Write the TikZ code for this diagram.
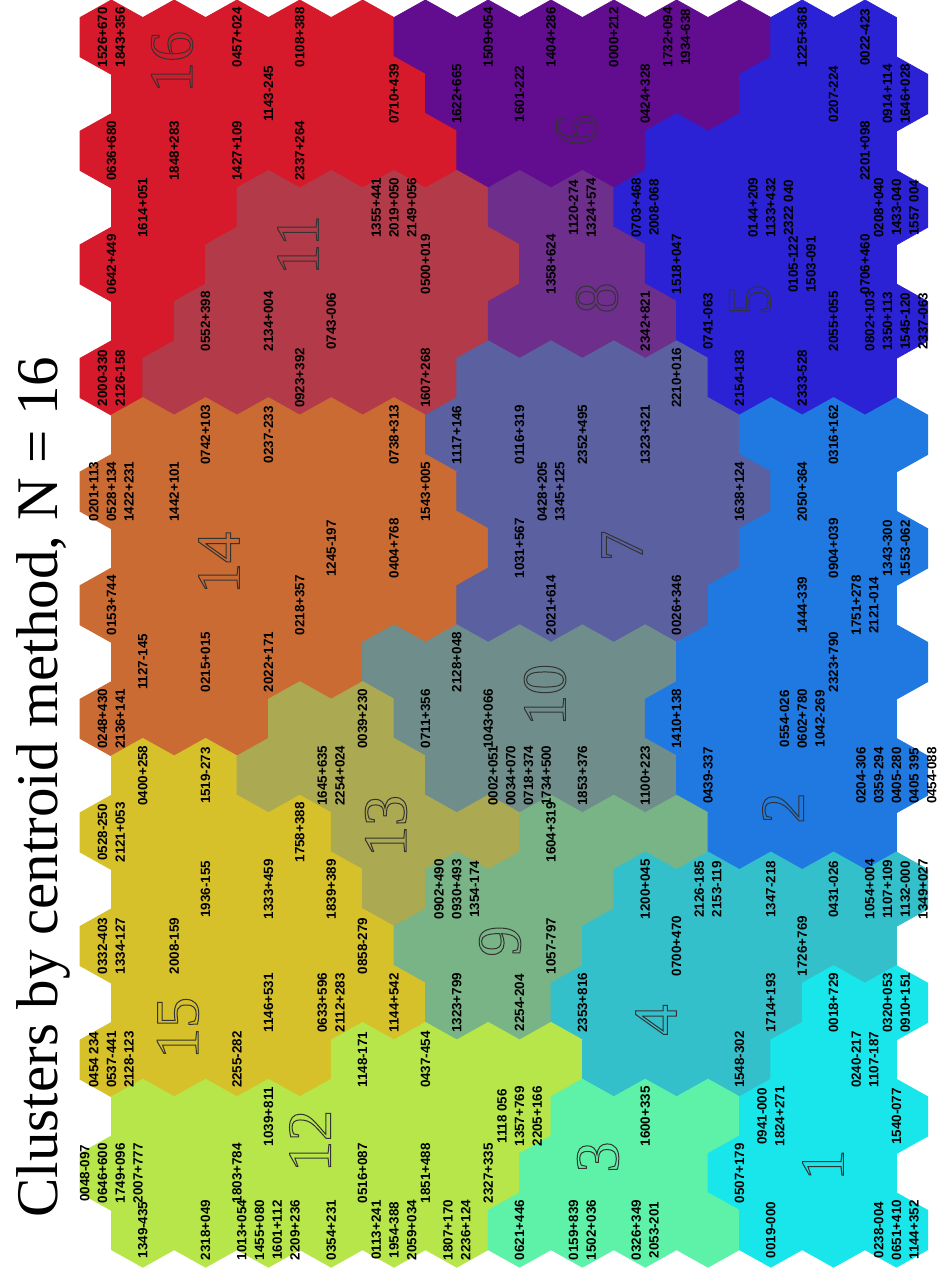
\documentclass[tikz,border=0pt]{standalone}
\usepackage{fontspec}
\setmainfont{Liberation Serif}
\newfontfamily\lblfam{Liberation Sans}
\definecolor{c1}{HTML}{19E6EA}
\definecolor{c2}{HTML}{1F79E0}
\definecolor{c3}{HTML}{5EF2A8}
\definecolor{c4}{HTML}{34C0CA}
\definecolor{c5}{HTML}{2A22D4}
\definecolor{c6}{HTML}{620D8F}
\definecolor{c7}{HTML}{5A60A0}
\definecolor{c8}{HTML}{6E2E8B}
\definecolor{c9}{HTML}{79B486}
\definecolor{c10}{HTML}{6F8E8B}
\definecolor{c11}{HTML}{B33A48}
\definecolor{c12}{HTML}{B6E649}
\definecolor{c13}{HTML}{ABA952}
\definecolor{c14}{HTML}{C96B33}
\definecolor{c15}{HTML}{D6C12A}
\definecolor{c16}{HTML}{D6192B}
\tikzset{
  lbl/.style={rotate=90, font=\lblfam\bfseries\fontsize{13.4}{17.7}\selectfont, align=center, inner sep=0pt, text=black},
  numeral/.style={rotate=90, font=\fontsize{62}{62}\selectfont, inner sep=0pt, text=black!80},
  hexcell/.style={line width=0.8pt, line join=round},
  titletext/.style={rotate=90, anchor=base, font=\fontsize{59}{59}\selectfont, inner sep=0pt}
}
\newcommand\hc[2]{\pgfmathsetmacro\hx{111.4+31.4*mod(#1,2)+62.8*#2}\pgfmathsetmacro\hy{37.2+56.8*#1}}
\newcommand\hexrow[2]{\foreach \cl [count=\cc from 0] in {#2}{\hc{#1}{\cc}\filldraw[hexcell,fill=c\cl,draw=c\cl] (\hx,\hy-37.2) -- ++(31.4,17.55) -- ++(0,39.3) -- ++(-31.4,17.55) -- ++(-31.4,-17.55) -- ++(0,-39.3) -- cycle;}}
\newcommand\lab[3]{\hc{#1}{#2}\node[lbl] (L-#1-#2) at (\hx,\hy) {#3};}
\newcommand\numl[3]{\node[numeral] (N-#3) at (#1,#2) {\special{pdf:literal direct 1 Tr 1 w}#3\special{pdf:literal direct 0 Tr}};}
\begin{document}
\begin{tikzpicture}[x=1pt,y=-1pt]
\fill[white] (0,0) rectangle (937,1268);
\useasboundingbox (0,0) rectangle (937,1268);
\hexrow{0}{16,16,16,16,16,6,6,6,6,6,6,5,5}
\hexrow{1}{16,16,16,16,16,6,6,6,6,6,5,5,5}
\hexrow{2}{16,16,16,16,16,16,6,6,6,5,5,5,5}
\hexrow{3}{16,16,11,11,11,11,8,8,5,5,5,5,5}
\hexrow{4}{16,16,11,11,11,11,11,8,8,5,5,5,5}
\hexrow{5}{16,11,11,11,11,11,8,8,8,5,5,5,5}
\hexrow{6}{16,11,11,11,11,11,7,7,7,7,5,5,5}
\hexrow{7}{14,14,14,14,14,7,7,7,7,7,2,2,2}
\hexrow{8}{14,14,14,14,14,14,7,7,7,7,7,2,2}
\hexrow{9}{14,14,14,14,14,14,7,7,7,7,2,2,2}
\hexrow{10}{14,14,14,14,14,14,7,7,7,7,2,2,2}
\hexrow{11}{14,14,14,14,10,10,10,10,10,2,2,2,2}
\hexrow{12}{14,14,14,13,13,10,10,10,10,2,2,2,2}
\hexrow{13}{15,15,13,13,13,10,10,10,10,2,2,2,2}
\hexrow{14}{15,15,15,15,13,13,13,9,9,9,2,2,2}
\hexrow{15}{15,15,15,15,13,9,9,9,4,4,4,4,4}
\hexrow{16}{15,15,15,15,15,9,9,9,4,4,4,4,4}
\hexrow{17}{15,15,15,15,15,9,9,4,4,4,4,1,1}
\hexrow{18}{15,15,15,15,12,12,12,12,4,4,4,1,1}
\hexrow{19}{12,12,12,12,12,12,12,3,3,3,1,1,1}
\hexrow{20}{12,12,12,12,12,12,12,3,3,3,1,1,1}
\hexrow{21}{12,12,12,12,12,12,3,3,3,3,1,1,1}
% labels
\lab{0}{0}{1526+670\\1843+356}
\lab{0}{2}{0457+024}
\lab{0}{3}{0108+388}
\lab{0}{6}{1509+054}
\lab{0}{7}{1404+286}
\lab{0}{8}{0000+212}
\lab{0}{9}{1732+094\\1934-638}
\lab{0}{11}{1225+368}
\lab{0}{12}{0022-423}
\lab{1}{2}{1143-245}
\lab{1}{4}{0710+439}
\lab{1}{5}{1622+665}
\lab{1}{6}{1601-222}
\lab{1}{8}{0424+328}
\lab{1}{11}{0207-224}
\lab{1}{12}{0914+114\\1646+028}
\lab{2}{0}{0636+680}
\lab{2}{1}{1848+283}
\lab{2}{2}{1427+109}
\lab{2}{3}{2337+264}
\lab{2}{12}{2201+098}
\lab{3}{0}{1614+051}
\lab{3}{4}{1355+441\\2019+050\\2149+056}
\lab{3}{7}{1120-274\\1324+574}
\lab{3}{8}{0703+468\\2008-068}
\lab{3}{10}{0144+209\\1133+432\\2322 040}
\lab{3}{12}{0208+040\\1433-040\\1557 004}
\lab{4}{0}{0642+449}
\lab{4}{5}{0500+019}
\lab{4}{7}{1358+624}
\lab{4}{9}{1518+047}
\lab{4}{11}{0105-122\\1503-091}
\lab{4}{12}{0706+460}
\lab{5}{1}{0552+398}
\lab{5}{2}{2134+004}
\lab{5}{3}{0743-006}
\lab{5}{8}{2342+821}
\lab{5}{9}{0741-063}
\lab{5}{11}{2055+055}
\lab{5}{12}{0802+103\\1350+113\\1545-120\\2337-063}
\lab{6}{0}{2000-330\\2126-158}
\lab{6}{3}{0923+392}
\lab{6}{5}{1607+268}
\lab{6}{9}{2210+016}
\lab{6}{10}{2154-183}
\lab{6}{11}{2333-528}
\lab{7}{1}{0742+103}
\lab{7}{2}{0237-233}
\lab{7}{4}{0738+313}
\lab{7}{5}{1117+146}
\lab{7}{6}{0116+319}
\lab{7}{7}{2352+495}
\lab{7}{8}{1323+321}
\lab{7}{11}{0316+162}
\lab{8}{0}{0201+113\\0528+134\\1422+231}
\lab{8}{1}{1442+101}
\lab{8}{5}{1543+005}
\lab{8}{7}{0428+205\\1345+125}
\lab{8}{10}{1638+124}
\lab{8}{11}{2050+364}
\lab{9}{3}{1245-197}
\lab{9}{4}{0404+768}
\lab{9}{6}{1031+567}
\lab{9}{11}{0904+039}
\lab{9}{12}{1343-300\\1553-062}
\lab{10}{0}{0153+744}
\lab{10}{3}{0218+357}
\lab{10}{7}{2021+614}
\lab{10}{9}{0026+346}
\lab{10}{11}{1444-339}
\lab{10}{12}{1751+278\\2121-014}
\lab{11}{0}{1127-145}
\lab{11}{1}{0215+015}
\lab{11}{2}{2022+171}
\lab{11}{5}{2128+048}
\lab{11}{11}{2323+790}
\lab{12}{0}{0248+430\\2136+141}
\lab{12}{4}{0039+230}
\lab{12}{5}{0711+356}
\lab{12}{6}{1043+066}
\lab{12}{9}{1410+138}
\lab{12}{11}{0554-026\\0602+780\\1042-269}
\lab{13}{0}{0400+258}
\lab{13}{1}{1519-273}
\lab{13}{3}{1645+635\\2254+024}
\lab{13}{6}{0002+051\\0034+070\\0718+374\\1734+500}
\lab{13}{7}{1853+376}
\lab{13}{8}{1100+223}
\lab{13}{9}{0439-337}
\lab{13}{12}{0204-306\\0359-294\\0405-280\\0405 395\\0454-088}
\lab{14}{0}{0528-250\\2121+053}
\lab{14}{3}{1758+388}
\lab{14}{7}{1604+319}
\lab{15}{1}{1936-155}
\lab{15}{2}{1333+459}
\lab{15}{3}{1839+389}
\lab{15}{5}{0902+490\\0930+493\\1354-174}
\lab{15}{8}{1200+045}
\lab{15}{9}{2126-185\\2153-119}
\lab{15}{10}{1347-218}
\lab{15}{11}{0431-026}
\lab{15}{12}{1054+004\\1107+109\\1132-000\\1349+027}
\lab{16}{0}{0332-403\\1334-127}
\lab{16}{1}{2008-159}
\lab{16}{4}{0858-279}
\lab{16}{7}{1057-797}
\lab{16}{9}{0700+470}
\lab{16}{11}{1726+769}
\lab{17}{2}{1146+531}
\lab{17}{3}{0633+596\\2112+283}
\lab{17}{4}{1144+542}
\lab{17}{5}{1323+799}
\lab{17}{6}{2254-204}
\lab{17}{7}{2353+816}
\lab{17}{10}{1714+193}
\lab{17}{11}{0018+729}
\lab{17}{12}{0320+053\\0910+151}
\lab{18}{0}{0454 234\\0537-441\\2128-123}
\lab{18}{2}{2255-282}
\lab{18}{4}{1148-171}
\lab{18}{5}{0437-454}
\lab{18}{10}{1548-302}
\lab{18}{12}{0240-217\\1107-187}
\lab{19}{2}{1039+811}
\lab{19}{6}{1118 056\\1357+769\\2205+166}
\lab{19}{8}{1600+335}
\lab{19}{10}{0941-000\\1824+271}
\lab{19}{12}{1540-077}
\lab{20}{0}{0048-097\\0646+600\\1749+096\\2007+777}
\lab{20}{2}{1803+784}
\lab{20}{4}{0516+087}
\lab{20}{5}{1851+488}
\lab{20}{6}{2327+335}
\lab{20}{10}{0507+179}
\lab{21}{0}{1349-435}
\lab{21}{1}{2318+049}
\lab{21}{2}{1013+054\\1455+080\\1601+112\\2209+236}
\lab{21}{3}{0354+231}
\lab{21}{4}{0113+241\\1954-388\\2059+034}
\lab{21}{5}{1807+170\\2236+124}
\lab{21}{6}{0621+446}
\lab{21}{7}{0159+839\\1502+036}
\lab{21}{8}{0326+349\\2053-201}
\lab{21}{10}{0019-000}
\lab{21}{12}{0238-004\\0651+410\\1144+352}
% cluster numerals
\numl{172}{62}{16}
\numl{298}{245}{11}
\numl{577}{130}{6}
\numl{597}{298}{8}
\numl{750}{300}{5}
\numl{219}{563}{14}
\numl{622}{546}{7}
\numl{545}{695}{10}
\numl{386}{826}{13}
\numl{500}{941}{9}
\numl{783}{808}{2}
\numl{178}{1028}{15}
\numl{310}{1141}{12}
\numl{656}{1020}{4}
\numl{598}{1157}{3}
\numl{823}{1165}{1}
% title
\node[titletext] (title) at (57,787) {Clusters by centroid method, N = 16};
\end{tikzpicture}
\end{document}
